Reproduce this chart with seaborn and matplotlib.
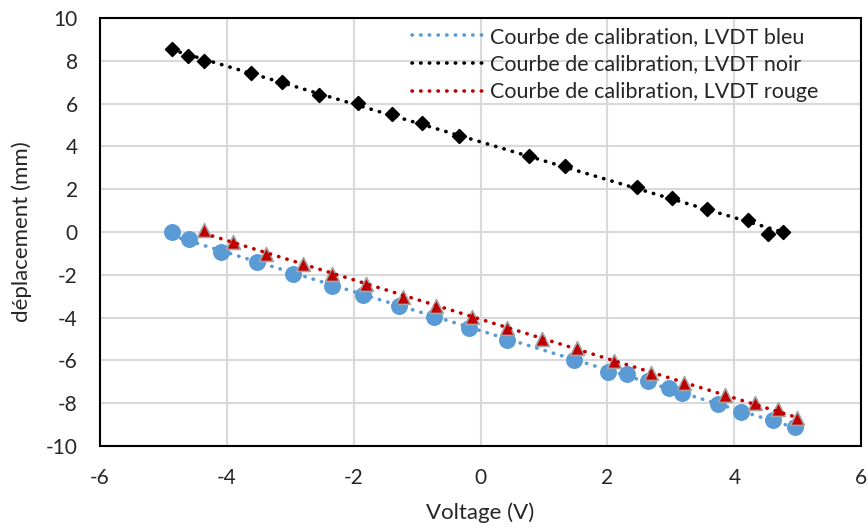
import numpy as np
import pandas as pd
import matplotlib.pyplot as plt
import seaborn as sns

# data
bleu_v = [-4.86, -4.60, -4.10, -3.53, -2.96, -2.35, -1.85, -1.29, -0.74, -0.19,
          0.42, 1.48, 2.01, 2.31, 2.64, 2.97, 3.18, 3.74, 4.10, 4.61, 4.96]
bleu_d = [0.00, -0.34, -0.95, -1.38, -1.96, -2.52, -2.94, -3.46, -3.97, -4.47,
          -5.05, -5.98, -6.53, -6.65, -6.95, -7.29, -7.51, -8.05, -8.40, -8.79, -9.10]

noir_v = [-4.87, -4.62, -4.36, -3.62, -3.13, -2.55, -1.94, -1.40, -0.92, -0.34,
          0.76, 1.33, 2.46, 3.02, 3.57, 4.21, 4.53, 4.77]
noir_d = [8.54, 8.22, 7.99, 7.41, 7.00, 6.42, 6.01, 5.50, 5.08, 4.50,
          3.55, 3.07, 2.12, 1.60, 1.09, 0.56, -0.09, 0.00]

rouge_v = [-4.36, -3.91, -3.39, -2.80, -2.35, -1.80, -1.22, -0.70, -0.13, 0.42,
           0.96, 1.52, 2.10, 2.68, 3.21, 3.86, 4.33, 4.69, 4.99]
rouge_d = [0.09, -0.45, -1.03, -1.51, -1.94, -2.41, -3.02, -3.46, -3.96, -4.50,
           -5.00, -5.43, -6.01, -6.57, -7.07, -7.62, -8.01, -8.29, -8.71]

labels = ['Courbe de calibration, LVDT bleu',
          'Courbe de calibration, LVDT noir',
          'Courbe de calibration, LVDT rouge']

sns.set_style("white")
plt.rcParams['font.family'] = ['Lato', 'DejaVu Sans']
plt.rcParams['axes.unicode_minus'] = False

fig = plt.figure(figsize=(8.68, 5.31), dpi=100)
ax = fig.add_axes([0.1152, 0.160, 0.877, 0.806])

series = [
    (bleu_v, bleu_d, '#5b9bd5', 'o', 11, '#5b9bd5'),
    (noir_v, noir_d, 'black', 'D', 7, 'black'),
    (rouge_v, rouge_d, '#c00000', '^', 10, '#a5a5a5'),
]

# markers
for v, d, col, mk, ms, ec in series:
    df = pd.DataFrame({'v': v, 'd': d})
    sns.scatterplot(data=df, x='v', y='d', ax=ax, color=col, marker=mk,
                    s=ms ** 2, edgecolor=ec, linewidth=1.2, zorder=3)

# linear trendlines
for (v, d, col, mk, ms, ec), lab in zip(series, labels):
    a, b = np.polyfit(v, d, 1)
    xs = np.array([min(v), max(v)])
    ax.plot(xs, a * xs + b, color=col, lw=2.6, linestyle=(0, (0.1, 2.3)),
            dash_capstyle='round', label=lab, zorder=4)

ax.set_xlim(-6, 6)
ax.set_ylim(-10, 10)
ax.set_xticks(np.arange(-6, 7, 2))
ax.set_yticks(np.arange(-10, 11, 2))
ax.grid(True, color='#d9d9d9', lw=1.5)
ax.set_axisbelow(True)
for sp in ax.spines.values():
    sp.set_color('black')
    sp.set_linewidth(1.5)
ax.tick_params(labelsize=15, length=0)
ax.tick_params(axis='x', pad=16)
ax.tick_params(axis='y', pad=16)
ax.set_xlabel('Voltage (V)', fontsize=16, labelpad=10)
ax.set_ylabel('déplacement (mm)', fontsize=16, labelpad=10)

ax.legend(loc='upper right', bbox_to_anchor=(0.955, 1.0), frameon=False,
          fontsize=15.5, handlelength=3.4, handletextpad=0.2,
          labelspacing=0.36, borderaxespad=0.0)

fig.savefig('out.png', dpi=100)
